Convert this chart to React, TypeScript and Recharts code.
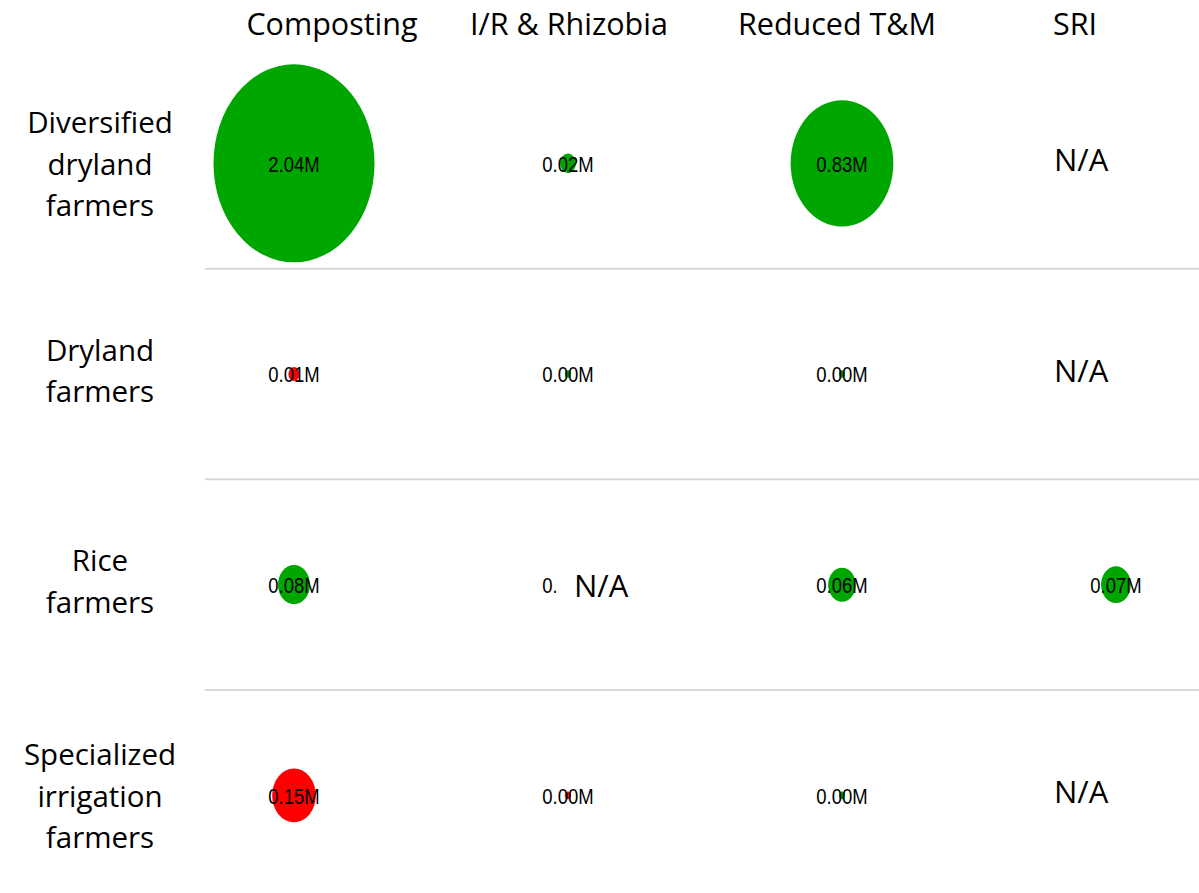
import React from "react";
import { ScatterChart, Scatter, XAxis, YAxis, ZAxis, ReferenceLine } from "recharts";

const practices = ["Composting", "I/R & Rhizobia", "Reduced T&M", "SRI"];
const farmerTypes = [
  "Diversified dryland farmers",
  "Dryland farmers",
  "Rice farmers",
  "Specialized irrigation farmers",
];
const farmerLabelLines = [
  ["Diversified", "dryland", "farmers"],
  ["Dryland", "farmers"],
  ["Rice", "farmers"],
  ["Specialized", "irrigation", "farmers"],
];

// adoption (millions) per practice, one value per farmer type; null = N/A
const composting = [2.04, 0.01, 0.08, 0.15];
const irRhizobia = [0.02, 0.003, 0.003, 0.003];
const reducedTM = [0.83, 0.003, 0.06, 0.003];
const sri = [null, null, 0.07, null];

// outcome per cell: "gain" (green) or "loss" (red)
const compostingOutcome = ["gain", "loss", "gain", "loss"];
const irRhizobiaOutcome = ["gain", "gain", "gain", "loss"];
const reducedTMOutcome = ["gain", "gain", "gain", "gain"];
const sriOutcome = ["gain", "gain", "gain", "gain"];

// cells shown as N/A
const naCells = [
  { practice: "SRI", farmer: "Diversified dryland farmers" },
  { practice: "SRI", farmer: "Dryland farmers" },
  { practice: "I/R & Rhizobia", farmer: "Rice farmers" },
  { practice: "SRI", farmer: "Specialized irrigation farmers" },
];

const COLORS: Record<string, string> = { gain: "#00a600", loss: "#ff0000" };

const seriesValues = [composting, irRhizobia, reducedTM, sri];
const seriesOutcome = [compostingOutcome, irRhizobiaOutcome, reducedTMOutcome, sriOutcome];

const points: any[] = [];
seriesValues.forEach((vals, c) => {
  vals.forEach((v, r) => {
    if (v !== null) {
      points.push({ x: c, y: r, z: v, color: COLORS[seriesOutcome[c][r]] });
    }
  });
});

const naPoints = naCells.map((n) => ({
  x: practices.indexOf(n.practice),
  y: farmerTypes.indexOf(n.farmer),
}));

const ASPECT = 1.23;
const TEXT_FONT = "'Open Sans', 'DejaVu Sans', sans-serif";
const LABEL_FONT = "'Liberation Sans', Arial, sans-serif";

const BubbleShape = (props: any) => {
  const { cx, cy, payload } = props;
  let r = 0;
  if (typeof props.size === "number" && isFinite(props.size)) r = Math.sqrt(props.size / Math.PI);
  else if (typeof props.width === "number") r = props.width / 2;
  return (
    <g>
      <ellipse cx={cx} cy={cy} rx={r} ry={r * ASPECT} fill={payload.color} />
      <text
        x={0}
        y={0}
        transform={`translate(${cx},${cy}) scale(1,${ASPECT})`}
        textAnchor="middle"
        dominantBaseline="central"
        fontSize={18.5}
        fontFamily={LABEL_FONT}
        fill="#000"
      >
        {`${payload.z.toFixed(2)}M`}
      </text>
    </g>
  );
};

const NaShape = (props: any) => {
  const { cx, cy, payload } = props;
  const lastCol = payload.x === practices.length - 1;
  const tx = lastCol ? cx - 62 : cx + 6;
  const ty = lastCol ? cy - 4 : cy;
  return (
    <g>
      <rect x={tx - 18} y={ty - 22} width={95} height={44} fill="#fff" />
      <text
        x={tx}
        y={ty}
        dominantBaseline="central"
        fontSize={31}
        fontFamily={TEXT_FONT}
        fill="#000"
      >
        N/A
      </text>
    </g>
  );
};

const headerShift = [38, 1, -5, -41];

const HeaderTick = (props: any) => {
  const { x, payload, index } = props;
  return (
    <text
      x={x + (headerShift[index] ?? 0)}
      y={35}
      textAnchor="middle"
      fontSize={30.5}
      fontFamily={TEXT_FONT}
      fill="#000"
    >
      {practices[payload.value]}
    </text>
  );
};

const RowTick = (props: any) => {
  const { y, payload } = props;
  const lines = farmerLabelLines[payload.value] || [];
  const n = lines.length;
  const shift = n === 2 ? -4 : 0;
  return (
    <g>
      {lines.map((ln: string, i: number) => (
        <text
          key={i}
          x={100}
          y={y + shift + (i - (n - 1) / 2) * 41.5}
          textAnchor="middle"
          dominantBaseline="central"
          fontSize={29.5}
          fontFamily={TEXT_FONT}
          fill="#000"
        >
          {ln}
        </text>
      ))}
    </g>
  );
};

export default function App() {
  return (
    <div style={{ position: "absolute", left: 0, top: 0, width: 1199, height: 893, background: "#fff" }}>
      <ScatterChart width={1199} height={893} margin={{ top: 0, right: 0, bottom: 3, left: 0 }}>
        <XAxis
          type="number"
          dataKey="x"
          orientation="top"
          height={58}
          domain={[-1, 3.303]}
          ticks={[0, 1, 2, 3]}
          axisLine={false}
          tickLine={false}
          tick={<HeaderTick />}
          allowDataOverflow
        />
        <YAxis
          type="number"
          dataKey="y"
          width={20}
          reversed
          domain={[-0.5, 3.449]}
          ticks={[0, 1, 2, 3]}
          axisLine={false}
          tickLine={false}
          tick={<RowTick />}
          allowDataOverflow
        />
        <ZAxis type="number" dataKey="z" domain={[0, 2.04]} range={[0, Math.PI * 80.5 * 80.5]} />
        {[0.5, 1.5, 2.5].map((v) => (
          <ReferenceLine
            key={v}
            segment={[
              { x: -0.325, y: v },
              { x: 3.303, y: v },
            ]}
            stroke="#d9d9d9"
            strokeWidth={2}
            ifOverflow="visible"
          />
        ))}
        <Scatter data={points} shape={<BubbleShape />} isAnimationActive={false} />
        <Scatter data={naPoints} shape={<NaShape />} isAnimationActive={false} />
      </ScatterChart>
    </div>
  );
}
